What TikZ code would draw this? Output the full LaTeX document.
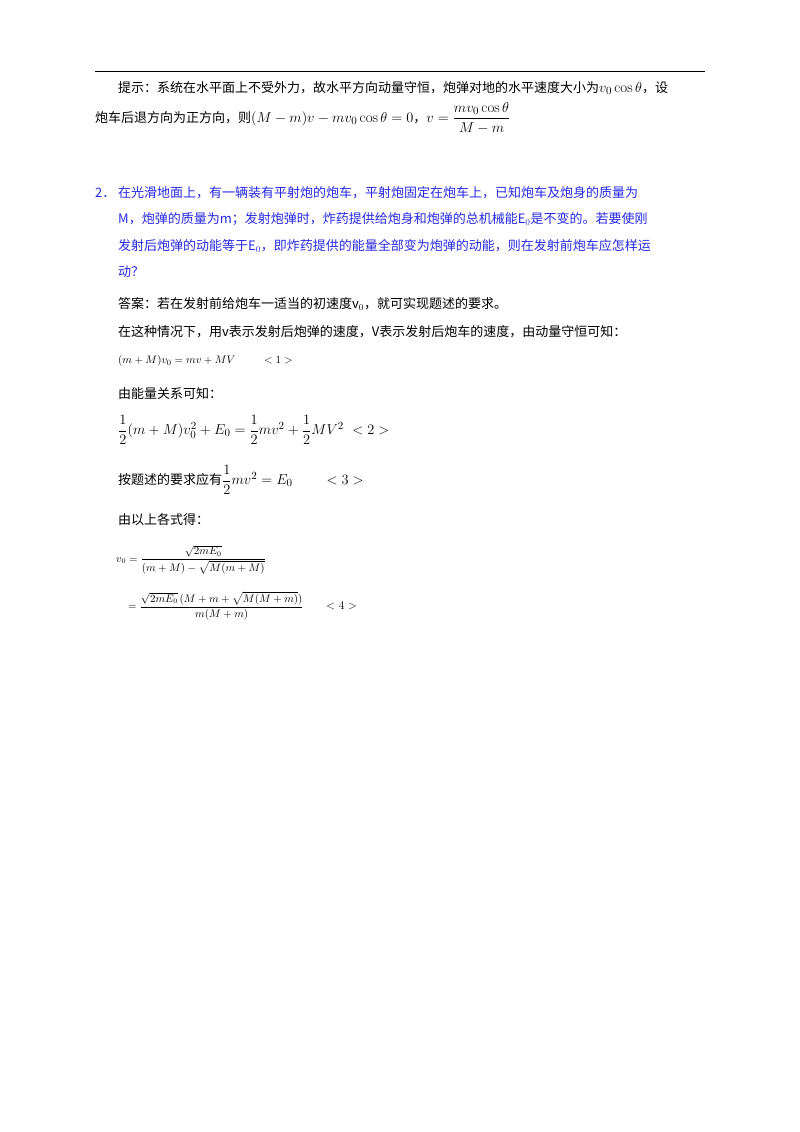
\documentclass[tikz,border=0pt]{standalone}
\usepackage{fontspec}
\usepackage{amsmath}
\newfontfamily\cjk{Noto Sans CJK SC}
\definecolor{qblue}{RGB}{40,40,230}
\newcommand\mm[1]{{\fontsize{15}{18}\selectfont$#1$}}
\begin{document}
\begin{tikzpicture}[x=1pt,y=-1pt,
  t/.style={anchor=west,inner sep=0pt,font=\cjk\fontsize{13}{16}\selectfont},
  b/.style={t,text=qblue}]
\useasboundingbox[fill=white] (0,0) rectangle (800,1132);
\draw[line width=1pt] (95,72) -- (705,72);
\node[t] (l1) at (118,88) {提示：系统在水平面上不受外力，故水平方向动量守恒，炮弹对地的水平速度大小为\mm{v_0\cos\theta}，设};
\node[t] (l2) at (95,118) {炮车后退方向为正方向，则\mm{(M-m)v-mv_0\cos\theta=0}，\mm{v=\dfrac{mv_0\cos\theta}{M-m}}};
\node[b] (q0) at (95,193) {2．};
\node[b] (q1) at (118,193) {在光滑地面上，有一辆装有平射炮的炮车，平射炮固定在炮车上，已知炮车及炮身的质量为};
\node[b] (q2) at (118,219) {M，炮弹的质量为m；发射炮弹时，炸药提供给炮身和炮弹的总机械能E$_0$是不变的。若要使刚};
\node[b] (q3) at (118,246) {发射后炮弹的动能等于E$_0$，即炸药提供的能量全部变为炮弹的动能，则在发射前炮车应怎样运};
\node[b] (q4) at (118,272) {动？};
\node[t] (a1) at (118,304) {答案：若在发射前给炮车一适当的初速度v$_0$，就可实现题述的要求。};
\node[t] (a2) at (118,332) {在这种情况下，用v表示发射后炮弹的速度，V表示发射后炮车的速度，由动量守恒可知：};
\node[t,font=\fontsize{11}{13}\selectfont] (e1) at (118,361) {$(m+M)v_0=mv+MV\qquad\ <1>$};
\node[t] (a3) at (118,394) {由能量关系可知：};
\node[t,font=\fontsize{15}{18}\selectfont] (e2) at (118,430) {$\dfrac12(m+M)v_0^2+E_0=\dfrac12 mv^2+\dfrac12 MV^2\ <2>$};
\node[t] (a4) at (118,480) {按题述的要求应有\mm{\dfrac12 mv^2=E_0\qquad<3>}};
\node[t] (a5) at (118,520) {由以上各式得：};
\node[t,font=\fontsize{10.5}{12}\selectfont] (e3) at (116,560) {$v_0=\dfrac{\sqrt{2mE_0}}{(m+M)-\sqrt{M(m+M)}}$};
\node[t,font=\fontsize{10.5}{12}\selectfont] (e4) at (128,606) {$=\dfrac{\sqrt{2mE_0}\,(M+m+\sqrt{M(M+m)})}{m(M+m)}$};
\node[t,font=\fontsize{12}{14}\selectfont] (e5) at (326,606) {$<4>$};
\end{tikzpicture}
\end{document}
